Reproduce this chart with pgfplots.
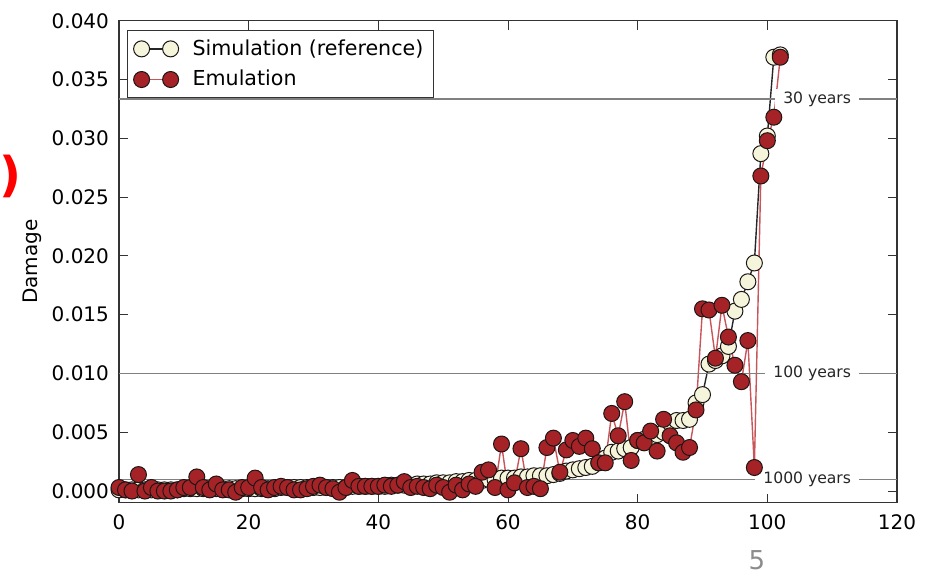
\documentclass[border=0pt]{standalone}
\usepackage{fontspec}
\setmainfont{DejaVu Sans}
\usepackage{pgfplots}
\pgfplotsset{compat=1.18}

\definecolor{simfill}{RGB}{245,245,220}
\definecolor{emufill}{RGB}{165,35,38}
\definecolor{emuline}{RGB}{200,85,90}
\definecolor{edge}{RGB}{30,22,22}
\definecolor{refgray}{RGB}{128,128,128}

\begin{document}
\begin{tikzpicture}
\useasboundingbox (0,0) rectangle (463.5pt,288pt);
\begin{axis}[
    at={(59.5pt,36.6pt)}, anchor=south west,
    scale only axis, width=389pt, height=241pt,
    xmin=0, xmax=120, ymin=-0.001, ymax=0.04,
    xtick={0,20,40,60,80,100,120},
    ytick={0,0.005,0.010,0.015,0.020,0.025,0.030,0.035,0.040},
    scaled y ticks=false,
    yticklabel style={/pgf/number format/fixed, /pgf/number format/fixed zerofill,
        /pgf/number format/precision=3, xshift=-1.5pt},
    tick label style={font=\fontsize{10}{12}\selectfont, /pgf/number format/assume math mode=true},
    xticklabel style={yshift=-2.5pt},
    ylabel={Damage},
    ylabel style={font=\fontsize{10}{12}\selectfont, at={(axis description cs:-0.112,0.5)}, anchor=center},
    tick align=inside,
    major tick length=4.5pt,
    tick style={black!80, line width=0.5pt},
    axis line style={black!80, line width=0.6pt},
    legend style={at={(0.0103,0.981)}, anchor=north west, draw=black!80, line width=0.6pt,
        font=\fontsize{10.3}{12}\selectfont, inner xsep=3pt, inner ysep=2.5pt, row sep=2pt,
        cells={anchor=west}, /tikz/every odd column/.append style={column sep=5pt}},
    legend image code/.code={\draw[#1] plot coordinates {(0pt,0pt) (14.5pt,0pt)};},
]

%% Simulation (reference)
\addplot[black!85, line width=0.7pt, mark=*, mark size=4pt,
    mark options={fill=simfill, draw=edge, line width=0.5pt}] coordinates {
    (0,0.0001)(1,0.0001)(2,0.0001)(3,0.0001)(4,0.0001)(5,0.0001)(6,0.0001)(7,0.0001)
    (8,0.0001)(9,0.0001)(10,0.0002)(11,0.0002)(12,0.0002)(13,0.0002)(14,0.0002)
    (15,0.0002)(16,0.0002)(17,0.0002)(18,0.0002)(19,0.0002)(20,0.0002)(21,0.0002)
    (22,0.0002)(23,0.0002)(24,0.0002)(25,0.0003)(26,0.0003)(27,0.0003)(28,0.0003)
    (29,0.0003)(30,0.0003)(31,0.0003)(32,0.0003)(33,0.0003)(34,0.0003)(35,0.0003)
    (36,0.0004)(37,0.0004)(38,0.0004)(39,0.0004)(40,0.0004)(41,0.0004)(42,0.0005)
    (43,0.0005)(44,0.0005)(45,0.0005)(46,0.0006)(47,0.0006)(48,0.0006)(49,0.0007)
    (50,0.0007)(51,0.0007)(52,0.0008)(53,0.0008)(54,0.0009)(55,0.0009)(56,0.0009)
    (57,0.0010)(58,0.0010)(59,0.0011)(60,0.0011)(61,0.0011)(62,0.0012)(63,0.0012)
    (64,0.0013)(65,0.0013)(66,0.0013)(67,0.0014)(68,0.0015)(69,0.0017)(70,0.0018)
    (71,0.0019)(72,0.0020)(73,0.0021)(74,0.0024)(75,0.0028)(76,0.0033)(77,0.0034)
    (78,0.0036)(79,0.0037)(80,0.0043)(81,0.0044)(82,0.0045)(83,0.0048)(84,0.0050)
    (85,0.0058)(86,0.0060)(87,0.0060)(88,0.0061)(89,0.0075)(90,0.0082)(91,0.0108)
    (92,0.0111)(93,0.0115)(94,0.0123)(95,0.0153)(96,0.0163)(97,0.0178)(98,0.0194)
    (99,0.0287)(100,0.0302)(101,0.0369)(102,0.0371)};
\addlegendentry{Simulation (reference)}

%% Emulation
\addplot[emuline, line width=0.7pt, mark=*, mark size=4pt,
    mark options={fill=emufill, draw=edge, line width=0.5pt}] coordinates {
    (0,0.0003)(1,0.0001)(2,0.0000)(3,0.0014)(4,0.0000)(5,0.0003)(6,0.0000)(7,0.0000)
    (8,0.0000)(9,0.0001)(10,0.0003)(11,0.0003)(12,0.0012)(13,0.0003)(14,0.0001)
    (15,0.0006)(16,0.0001)(17,0.0001)(18,-0.0001)(19,0.0003)(20,0.0003)(21,0.0011)
    (22,0.0003)(23,0.0001)(24,0.0003)(25,0.0004)(26,0.0003)(27,0.0001)(28,0.0001)
    (29,0.0002)(30,0.0004)(31,0.0005)(32,0.0003)(33,0.0002)(34,-0.0001)(35,0.0003)
    (36,0.0009)(37,0.0004)(38,0.0004)(39,0.0004)(40,0.0004)(41,0.0005)(42,0.0004)
    (43,0.0005)(44,0.0008)(45,0.0003)(46,0.0004)(47,0.0003)(48,0.0002)(49,0.0005)
    (50,0.0003)(51,-0.0001)(52,0.0005)(53,0.0001)(54,0.0006)(55,0.0004)(56,0.0016)
    (57,0.0018)(58,0.0003)(59,0.0040)(60,0.0001)(61,0.0007)(62,0.0036)(63,0.0003)
    (64,0.0004)(65,0.0002)(66,0.0037)(67,0.0045)(68,0.0016)(69,0.0035)(70,0.0043)
    (71,0.0038)(72,0.0045)(73,0.0036)(74,0.0024)(75,0.0024)(76,0.0066)(77,0.0047)
    (78,0.0076)(79,0.0026)(80,0.0043)(81,0.0041)(82,0.0051)(83,0.0034)(84,0.0061)
    (85,0.0047)(86,0.0041)(87,0.0033)(88,0.0037)(89,0.0069)(90,0.0155)(91,0.0154)
    (92,0.0113)(93,0.0158)(94,0.0131)(95,0.0107)(96,0.0093)(97,0.0128)(98,0.0020)
    (99,0.0268)(100,0.0298)(101,0.0318)(102,0.0369)};
\addlegendentry{Emulation}

%% return-period reference levels
\addplot[refgray, line width=0.7pt, forget plot] coordinates {(0,0.033333)(120,0.033333)};
\addplot[refgray, line width=0.7pt, forget plot] coordinates {(0,0.01)(120,0.01)};
\addplot[refgray, line width=0.7pt, forget plot] coordinates {(0,0.001)(120,0.001)};

\tikzset{retlab/.style={anchor=east, fill=white, inner xsep=4pt, inner ysep=1.5pt,
    font=\fontsize{7.8}{9}\selectfont, text=black!85}}
\node[retlab] at (axis cs:114.2,0.033333) {30 years};
\node[retlab] at (axis cs:114.2,0.01) {100 years};
\node[retlab] at (axis cs:114.2,0.001) {1000 years};
\end{axis}

%% slide leftovers
\node[text=red, inner sep=0pt, font=\fontsize{24}{24}\selectfont\bfseries] at (5pt,200pt) {)};
\node[text=black!45, inner sep=0pt, font=\fontsize{13}{13}\selectfont] at (378.5pt,8pt) {5};
\end{tikzpicture}
\end{document}
